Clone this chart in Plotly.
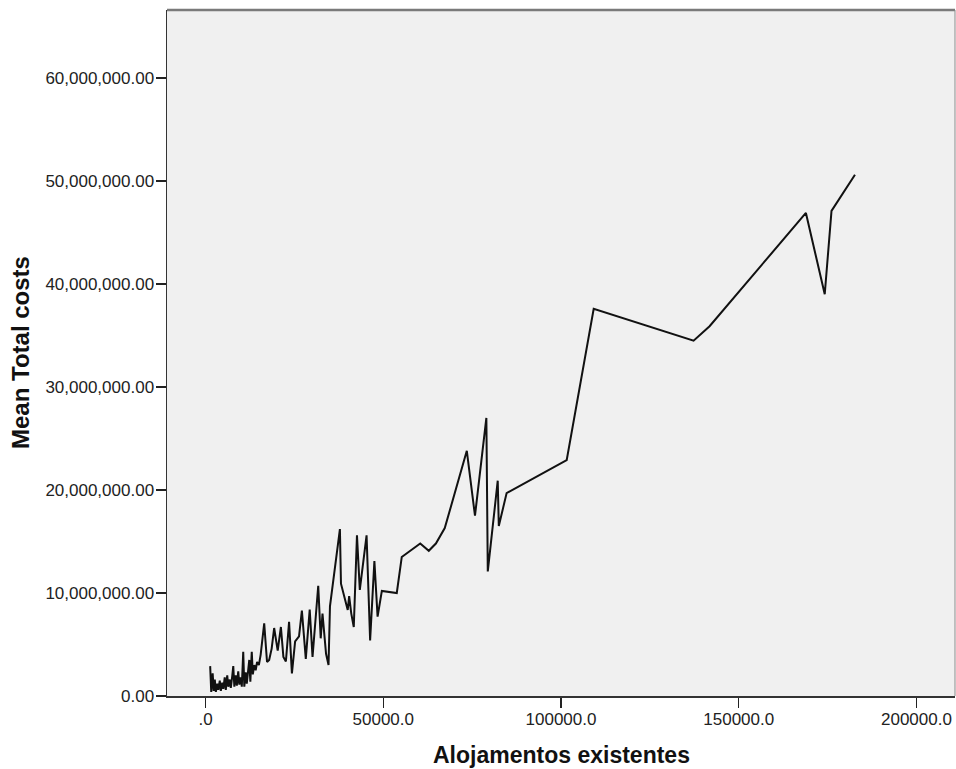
import plotly.graph_objects as go

# Data (x = Alojamentos existentes, y = Mean Total costs)
alojamentos = [
    1300, 1600, 2000, 2300, 2600, 2900, 3300, 3600, 4000, 4300,
    4700, 5000, 5400, 5700, 6100, 6400, 6800, 7100, 7500, 7800,
    8100, 8500, 8800, 9200, 9500, 9900, 10200, 10600, 10900, 11300,
    11600, 12000, 12300, 12600, 13000, 13300, 13700, 14100, 14500, 15000,
    15500, 16500, 17300, 17900, 18600, 19300, 20300, 21200, 21900, 22600,
    23500, 24300, 25200, 26300, 27100, 28200, 29300, 30100, 31700, 32400,
    32900, 33900, 34600, 35000, 37800, 38100, 40000, 40400, 41000, 41700,
    42600, 43400, 45300, 46300, 47500, 48400, 49600, 53800, 55200, 60400,
    62800, 64800, 67300, 73500, 75800, 79000, 79400, 82200, 82500, 84700,
    101600, 109200, 137300, 141800, 168900, 174200, 176100, 182700,
]
mean_total_costs = [
    2.9e6, 0.4e6, 2.2e6, 0.5e6, 1.6e6, 0.4e6, 1.2e6, 0.6e6, 1.5e6, 0.5e6,
    1.3e6, 0.7e6, 1.8e6, 0.6e6, 2.0e6, 0.9e6, 1.6e6, 0.8e6, 1.9e6, 2.9e6,
    0.9e6, 2.0e6, 1.0e6, 2.4e6, 1.1e6, 1.8e6, 0.9e6, 4.3e6, 0.9e6, 2.3e6,
    1.2e6, 2.6e6, 3.5e6, 1.4e6, 4.3e6, 2.1e6, 3.0e6, 2.5e6, 3.3e6, 3.0e6,
    4.0e6, 7.05e6, 3.3e6, 3.5e6, 4.6e6, 6.6e6, 4.4e6, 6.7e6, 3.8e6, 3.35e6,
    7.2e6, 2.2e6, 5.3e6, 5.8e6, 8.3e6, 3.6e6, 8.4e6, 3.8e6, 10.7e6, 5.6e6,
    8.0e6, 4.1e6, 3.0e6, 8.7e6, 16.2e6, 10.9e6, 8.35e6, 9.7e6, 8.0e6, 6.7e6,
    15.6e6, 10.3e6, 15.6e6, 5.4e6, 13.1e6, 7.7e6, 10.2e6, 10.0e6, 13.5e6, 14.8e6,
    14.1e6, 14.8e6, 16.3e6, 23.8e6, 17.5e6, 27.0e6, 12.1e6, 20.9e6, 16.5e6, 19.7e6,
    22.9e6, 37.6e6, 34.5e6, 35.9e6, 46.9e6, 39.0e6, 47.1e6, 50.6e6,
]

x_tick_values = [0, 50000, 100000, 150000, 200000]
x_tick_labels = [".0", "50000.0", "100000.0", "150000.0", "200000.0"]
y_tick_values = [0, 10e6, 20e6, 30e6, 40e6, 50e6, 60e6]

x_title = "Alojamentos existentes"
y_title = "Mean Total costs"

W, H = 956, 769
ML, MT, MR = 167, 10, 1
MB = H - 696
PW, PH = W - ML - MR, H - MT - MB

fig = go.Figure()
fig.add_trace(go.Scatter(
    x=alojamentos, y=mean_total_costs, mode="lines",
    line=dict(color="#111111", width=2), hoverinfo="skip", showlegend=False,
))

tick_font = dict(family="Liberation Sans, Arial, sans-serif", size=17, color="#222222")
x_title_font = dict(family="Liberation Sans, Arial, sans-serif", size=23, color="#111111")
y_title_font = dict(family="Liberation Sans, Arial, sans-serif", size=24, color="#111111")

fig.update_layout(
    width=W, height=H,
    margin=dict(l=ML, r=MR, t=MT, b=MB),
    paper_bgcolor="white",
    plot_bgcolor="#f0f0f0",
    showlegend=False,
    hovermode=False,
    xaxis=dict(
        range=[-10845, 210845], showgrid=False, zeroline=False,
        showline=True, linecolor="#333333", linewidth=1.5,
        ticks="outside", ticklen=10, tickwidth=1.5, tickcolor="#222222",
        tickvals=x_tick_values, ticktext=x_tick_labels, tickfont=tick_font,
        ticklabelstandoff=-3,
    ),
    yaxis=dict(
        range=[0, 66.6e6], showgrid=False, zeroline=False,
        showline=True, linecolor="#333333", linewidth=1.5,
        ticks="outside", ticklen=10, tickwidth=1.5, tickcolor="#222222",
        tickvals=y_tick_values, tickformat=",.2f", tickfont=tick_font,
        ticklabelstandoff=-2,
    ),
    shapes=[
        dict(type="line", xref="paper", yref="paper", x0=0, x1=1, y0=1, y1=1,
             line=dict(color="#7a7a7a", width=2.5)),
        dict(type="line", xref="paper", yref="paper", x0=1, x1=1, y0=0, y1=1,
             line=dict(color="#8a8a8a", width=1)),
    ],
    annotations=[
        dict(text="<b>%s</b>" % x_title, xref="paper", yref="paper",
             x=0.5, y=(696 - 755) / PH, xanchor="center", yanchor="middle",
             showarrow=False, font=x_title_font),
        dict(text="<b>%s</b>" % y_title, xref="paper", yref="paper",
             x=(20 - ML) / PW, y=0.5, xanchor="center", yanchor="middle",
             textangle=-90, showarrow=False, font=y_title_font),
    ],
)

fig.write_html(
    "out.html",
    config={"displayModeBar": False, "staticPlot": True},
    post_script=(
        "document.body.style.margin='0';"
        "document.body.style.overflow='hidden';"
        "document.documentElement.style.overflow='hidden';"
    ),
)
